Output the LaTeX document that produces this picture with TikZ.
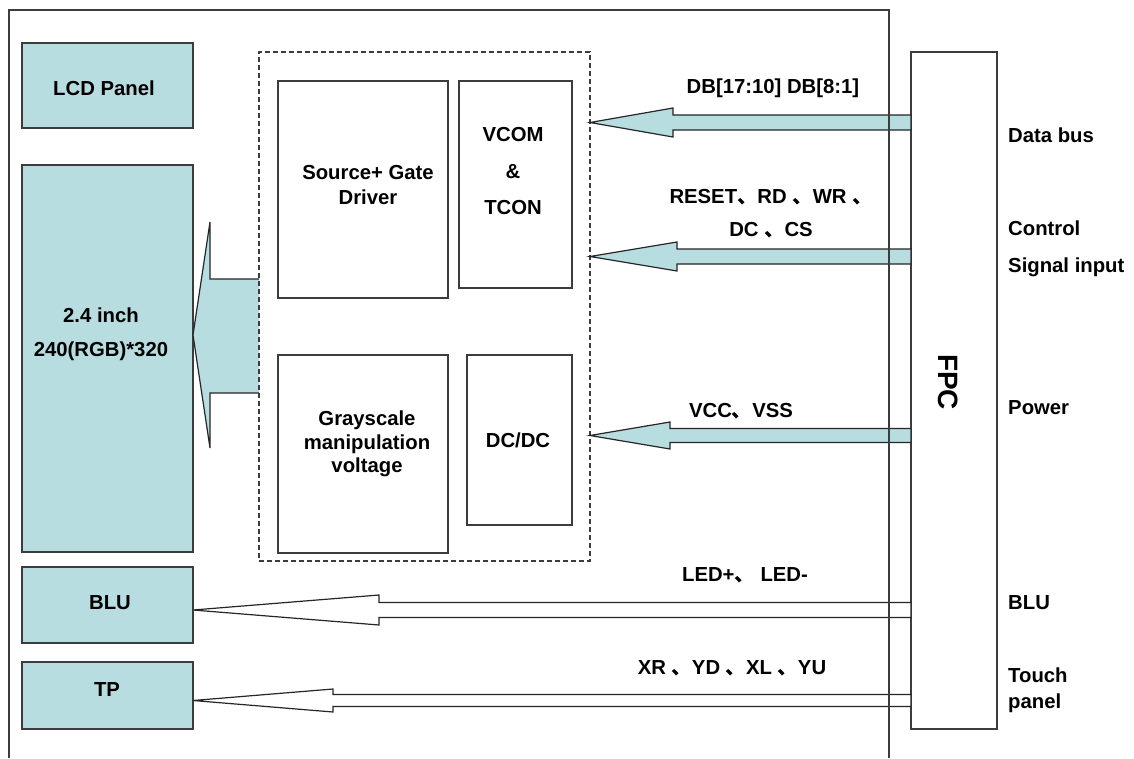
\documentclass[tikz,border=0pt]{standalone}
\usepackage{fontspec}
\setmainfont{Liberation Sans}
\newfontfamily\cjkfont{Noto Sans CJK SC}
\newcommand\cjkc{{\cjkfont 、}}
\definecolor{panel}{RGB}{183,221,225}
\definecolor{ln}{RGB}{60,60,60}
\newcommand\blockarr[7]{\draw[#1] (#2,#3) -- (#4,{#3-#5}) -- (#4,{#3-#6}) -- (#7,{#3-#6}) -- (#7,{#3+#6}) -- (#4,{#3+#6}) -- (#4,{#3+#5}) -- cycle;}
\begin{document}
\begin{tikzpicture}[x=1pt,y=-1pt,
 box/.style={draw=ln, line width=1.3pt, anchor=north west, inner sep=0pt, outer sep=0pt},
 pbox/.style={box, fill=panel},
 dbox/.style={draw=ln, line width=1.1pt, dash pattern=on 5pt off 3pt, anchor=north west, inner sep=0pt, outer sep=0pt},
 txt/.style={font=\fontsize{20.3}{24}\selectfont\bfseries, text=black, inner sep=0pt, align=center},
 rtxt/.style={txt, anchor=west, align=left},
 barrow/.style={draw=black!85, line width=1.2pt, fill=panel, line join=miter},
 warrow/.style={draw=black!85, line width=1.2pt, fill=white, line join=miter},
]
\useasboundingbox (0,0) rectangle (1134,758);
\fill[white] (0,0) rectangle (1134,758);

% left panels
\node[pbox, minimum width=171, minimum height=85] (lcd) at (22,43) {};
\node[pbox, minimum width=171, minimum height=387] (disp) at (22,165) {};
\node[pbox, minimum width=171, minimum height=76] (blu) at (22,567) {};
\node[pbox, minimum width=171, minimum height=67] (tp) at (22,662) {};

% big arrow into display
\fill[panel] (259,279) -- (210,279) -- (210,222) -- (193,335) -- (210,448) -- (210,393) -- (259,393) -- cycle;
\draw[draw=black!85, line width=1.2pt, line join=miter] (259,279) -- (210,279) -- (210,222) -- (193,335) -- (210,448) -- (210,393) -- (259,393);

% driver IC
\node[dbox, minimum width=331, minimum height=509] (dash) at (259,52) {};
\node[box, minimum width=170, minimum height=217] (src) at (278,81) {};
\node[box, minimum width=113, minimum height=207] (vcom) at (459,81) {};
\node[box, minimum width=170, minimum height=198] (gray) at (278,355) {};
\node[box, minimum width=105, minimum height=170] (dcdc) at (467,355) {};

% FPC
\node[box, minimum width=86, minimum height=677] (fpc) at (911,52) {};

% block arrows
\blockarr{barrow}{590}{122.5}{673}{14.5}{7.5}{911}
\blockarr{barrow}{590}{256.5}{677}{14.5}{7.5}{911}
\blockarr{barrow}{590}{435.5}{670}{13.5}{7}{911}
\blockarr{warrow}{193}{610}{379}{15}{7.5}{911}
\blockarr{warrow}{193}{700.5}{333}{11.5}{6}{911}

% frame
\draw[ln, line width=1.5pt] (9,758) -- (9,10) -- (889,10) -- (889,758);

% labels in boxes
\node[txt] (lcdl) at (104,88) {LCD Panel};
\node[txt, font=\fontsize{20.3}{34}\selectfont\bfseries] (displ) at (101,334.5) {2.4 inch\\240(RGB)*320};
\node[txt] (blul) at (110,603) {BLU};
\node[txt] (tpl) at (107,690) {TP};
\node[txt, font=\fontsize{20.3}{25}\selectfont\bfseries] (srcl) at (368,185.5) {Source+ Gate\\Driver};
\node[txt, font=\fontsize{20.3}{36.5}\selectfont\bfseries] (vcoml) at (513,171.5) {VCOM\\\&\\TCON};
\node[txt, font=\fontsize{20.3}{23.5}\selectfont\bfseries] (grayl) at (367,444) {Grayscale\\manipulation\\voltage};
\node[txt] (dcdcl) at (518,440) {DC/DC};
\node[txt, font=\fontsize{28}{30}\selectfont\bfseries, rotate=-90] (fpcl) at (948,382) {FPC};

% signal labels
\node[txt] (dbl) at (773,88) {DB[17:10] DB[8:1]};
\node[txt, font=\fontsize{20.3}{33}\selectfont\bfseries] (ctrll) at (771,213.5) {RESET\cjkc RD \cjkc WR \cjkc\\DC \cjkc CS};
\node[txt] (pwrl) at (741,411) {VCC\cjkc VSS};
\node[txt] (ledl) at (745,575) {LED+\cjkc\ LED-};
\node[txt] (xrl) at (732,668) {XR \cjkc YD \cjkc XL \cjkc YU};

% right side labels
\node[rtxt] (r1) at (1008,135) {Data bus};
\node[rtxt, font=\fontsize{20.3}{37}\selectfont\bfseries] (r2) at (1008,248.5) {Control\\Signal input};
\node[rtxt] (r3) at (1008,408) {Power};
\node[rtxt] (r4) at (1008,603) {BLU};
\node[rtxt, font=\fontsize{20.3}{26}\selectfont\bfseries] (r5) at (1008,690) {Touch\\panel};
\end{tikzpicture}
\end{document}
